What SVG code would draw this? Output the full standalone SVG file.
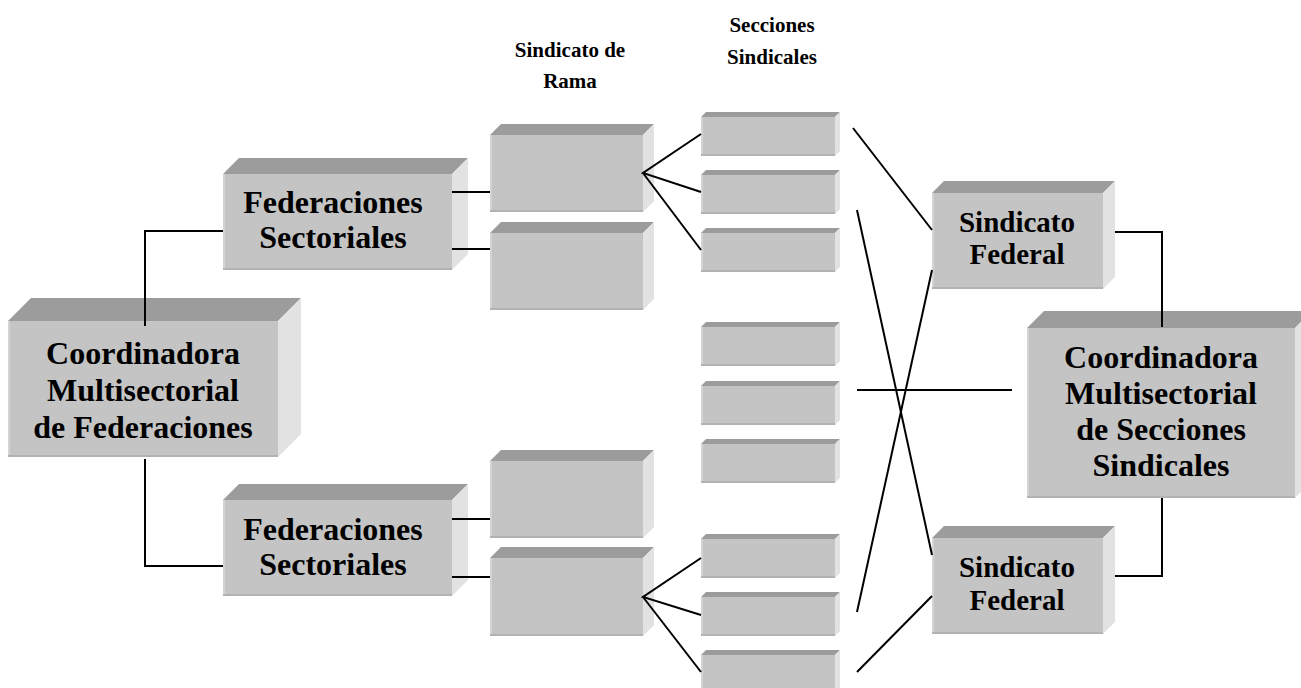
<svg xmlns="http://www.w3.org/2000/svg" width="1301" height="688" viewBox="0 0 1301 688">
<style>
.front{fill:#c4c4c4}
.top{fill:#9c9c9c}
.side{fill:#e2e2e2}
.hl{fill:#d4d4d4}
.sh{fill:#b2b2b2}
.lbl{font-family:"Liberation Serif","Times New Roman",serif;font-weight:bold;font-size:32px;fill:#000;text-anchor:middle}
.sf{font-size:29px}
.ttl{font-family:"Liberation Serif","Times New Roman",serif;font-weight:bold;font-size:21px;fill:#000;text-anchor:middle}
.con{fill:none;stroke:#000;stroke-width:2}
</style>
<rect width="1301" height="688" fill="#fff"/>
<g id="titles">
<text class="ttl" x="570" y="57">Sindicato de</text>
<text class="ttl" x="570" y="88">Rama</text>
<text class="ttl" x="772" y="32">Secciones</text>
<text class="ttl" x="772" y="64">Sindicales</text>
</g>
<g id="coord-fed">
<polygon class="top" points="8,321 31,298 301,298 278,321"/>
<polygon class="side" points="278,321 301,298 301,434 278,457"/>
<rect class="front" x="8" y="321" width="270" height="136"/>
<rect class="hl" x="8" y="321" width="2" height="136"/>
<rect class="sh" x="8" y="455" width="270" height="2"/>
<text class="lbl" x="143" y="364">Coordinadora</text>
<text class="lbl" x="143" y="401">Multisectorial</text>
<text class="lbl" x="143" y="438">de Federaciones</text>
</g>
<g id="fed-1">
<polygon class="top" points="223,174 239,158 468,158 452,174"/>
<polygon class="side" points="452,174 468,158 468,254 452,270"/>
<rect class="front" x="223" y="174" width="229" height="96"/>
<rect class="hl" x="223" y="174" width="2" height="96"/>
<rect class="sh" x="223" y="268" width="229" height="2"/>
<text class="lbl" x="333" y="213">Federaciones</text>
<text class="lbl" x="333" y="248">Sectoriales</text>
</g>
<g id="fed-2">
<polygon class="top" points="223,500 239,484 468,484 452,500"/>
<polygon class="side" points="452,500 468,484 468,580 452,596"/>
<rect class="front" x="223" y="500" width="229" height="96"/>
<rect class="hl" x="223" y="500" width="2" height="96"/>
<rect class="sh" x="223" y="594" width="229" height="2"/>
<text class="lbl" x="333" y="540">Federaciones</text>
<text class="lbl" x="333" y="575">Sectoriales</text>
</g>
<g id="rama-1">
<polygon class="top" points="490,135 501,124 654,124 643,135"/>
<polygon class="side" points="643,135 654,124 654,201 643,212"/>
<rect class="front" x="490" y="135" width="153" height="77"/>
<rect class="hl" x="490" y="135" width="2" height="77"/>
<rect class="sh" x="490" y="210" width="153" height="2"/>
</g>
<g id="rama-2">
<polygon class="top" points="490,233 501,222 654,222 643,233"/>
<polygon class="side" points="643,233 654,222 654,299 643,310"/>
<rect class="front" x="490" y="233" width="153" height="77"/>
<rect class="hl" x="490" y="233" width="2" height="77"/>
<rect class="sh" x="490" y="308" width="153" height="2"/>
</g>
<g id="rama-3">
<polygon class="top" points="490,461 501,450 654,450 643,461"/>
<polygon class="side" points="643,461 654,450 654,527 643,538"/>
<rect class="front" x="490" y="461" width="153" height="77"/>
<rect class="hl" x="490" y="461" width="2" height="77"/>
<rect class="sh" x="490" y="536" width="153" height="2"/>
</g>
<g id="rama-4">
<polygon class="top" points="490,558 501,547 654,547 643,558"/>
<polygon class="side" points="643,558 654,547 654,625 643,636"/>
<rect class="front" x="490" y="558" width="153" height="78"/>
<rect class="hl" x="490" y="558" width="2" height="78"/>
<rect class="sh" x="490" y="634" width="153" height="2"/>
</g>
<g id="sec-1"><polygon class="top" points="701,117 706,112 840,112 835,117"/><polygon class="side" points="835,117 840,112 840,151 835,156"/><rect class="front" x="701" y="117" width="134" height="39"/><rect class="hl" x="701" y="117" width="2" height="39"/><rect class="sh" x="701" y="154" width="134" height="2"/></g>
<g id="sec-2"><polygon class="top" points="701,175 706,170 840,170 835,175"/><polygon class="side" points="835,175 840,170 840,209 835,214"/><rect class="front" x="701" y="175" width="134" height="39"/><rect class="hl" x="701" y="175" width="2" height="39"/><rect class="sh" x="701" y="212" width="134" height="2"/></g>
<g id="sec-3"><polygon class="top" points="701,233 706,228 840,228 835,233"/><polygon class="side" points="835,233 840,228 840,267 835,272"/><rect class="front" x="701" y="233" width="134" height="39"/><rect class="hl" x="701" y="233" width="2" height="39"/><rect class="sh" x="701" y="270" width="134" height="2"/></g>
<g id="sec-4"><polygon class="top" points="701,327 706,322 840,322 835,327"/><polygon class="side" points="835,327 840,322 840,361 835,366"/><rect class="front" x="701" y="327" width="134" height="39"/><rect class="hl" x="701" y="327" width="2" height="39"/><rect class="sh" x="701" y="364" width="134" height="2"/></g>
<g id="sec-5"><polygon class="top" points="701,386 706,381 840,381 835,386"/><polygon class="side" points="835,386 840,381 840,420 835,425"/><rect class="front" x="701" y="386" width="134" height="39"/><rect class="hl" x="701" y="386" width="2" height="39"/><rect class="sh" x="701" y="423" width="134" height="2"/></g>
<g id="sec-6"><polygon class="top" points="701,444 706,439 840,439 835,444"/><polygon class="side" points="835,444 840,439 840,478 835,483"/><rect class="front" x="701" y="444" width="134" height="39"/><rect class="hl" x="701" y="444" width="2" height="39"/><rect class="sh" x="701" y="481" width="134" height="2"/></g>
<g id="sec-7"><polygon class="top" points="701,539 706,534 840,534 835,539"/><polygon class="side" points="835,539 840,534 840,573 835,578"/><rect class="front" x="701" y="539" width="134" height="39"/><rect class="hl" x="701" y="539" width="2" height="39"/><rect class="sh" x="701" y="576" width="134" height="2"/></g>
<g id="sec-8"><polygon class="top" points="701,597 706,592 840,592 835,597"/><polygon class="side" points="835,597 840,592 840,631 835,636"/><rect class="front" x="701" y="597" width="134" height="39"/><rect class="hl" x="701" y="597" width="2" height="39"/><rect class="sh" x="701" y="634" width="134" height="2"/></g>
<g id="sec-9"><polygon class="top" points="701,655 706,650 840,650 835,655"/><polygon class="side" points="835,655 840,650 840,689 835,694"/><rect class="front" x="701" y="655" width="134" height="39"/><rect class="hl" x="701" y="655" width="2" height="39"/></g>
<g id="sind-fed-1">
<polygon class="top" points="932,193 944,181 1115,181 1103,193"/>
<polygon class="side" points="1103,193 1115,181 1115,277 1103,289"/>
<rect class="front" x="932" y="193" width="171" height="96"/>
<rect class="hl" x="932" y="193" width="2" height="96"/>
<rect class="sh" x="932" y="287" width="171" height="2"/>
<text class="lbl sf" x="1017" y="232">Sindicato</text>
<text class="lbl sf" x="1017" y="264">Federal</text>
</g>
<g id="sind-fed-2">
<polygon class="top" points="932,538 944,526 1115,526 1103,538"/>
<polygon class="side" points="1103,538 1115,526 1115,622 1103,634"/>
<rect class="front" x="932" y="538" width="171" height="96"/>
<rect class="hl" x="932" y="538" width="2" height="96"/>
<rect class="sh" x="932" y="632" width="171" height="2"/>
<text class="lbl sf" x="1017" y="577">Sindicato</text>
<text class="lbl sf" x="1017" y="610">Federal</text>
</g>
<g id="coord-sec">
<polygon class="top" points="1027,328 1044,311 1312,311 1295,328"/>
<polygon class="side" points="1295,328 1312,311 1312,481 1295,498"/>
<rect class="front" x="1027" y="328" width="268" height="170"/>
<rect class="hl" x="1027" y="328" width="2" height="170"/>
<rect class="sh" x="1027" y="496" width="268" height="2"/>
<text class="lbl" x="1161" y="368">Coordinadora</text>
<text class="lbl" x="1161" y="404">Multisectorial</text>
<text class="lbl" x="1161" y="440">de Secciones</text>
<text class="lbl" x="1161" y="476">Sindicales</text>
</g>
<g id="connectors">
<polyline class="con" points="145,326 145,231 223,231"/>
<polyline class="con" points="145,459 145,566 223,566"/>
<line class="con" x1="452" y1="192" x2="490" y2="192"/>
<line class="con" x1="452" y1="249" x2="490" y2="249"/>
<line class="con" x1="452" y1="519" x2="490" y2="519"/>
<line class="con" x1="452" y1="577" x2="490" y2="577"/>
<polyline class="con" points="701,134 643,173 701,192"/>
<line class="con" x1="643" y1="173" x2="701" y2="250"/>
<polyline class="con" points="701,558 643,597 701,615"/>
<line class="con" x1="643" y1="597" x2="701" y2="672"/>
<line class="con" x1="853" y1="128" x2="932" y2="230"/>
<line class="con" x1="857" y1="210" x2="932" y2="555"/>
<line class="con" x1="857" y1="612" x2="932" y2="270"/>
<line class="con" x1="857" y1="672" x2="932" y2="596"/>
<line class="con" x1="857" y1="390" x2="1012" y2="390"/>
<polyline class="con" points="1115,232 1162,232 1162,327"/>
<polyline class="con" points="1162,498 1162,576 1115,576"/>
</g>
</svg>
